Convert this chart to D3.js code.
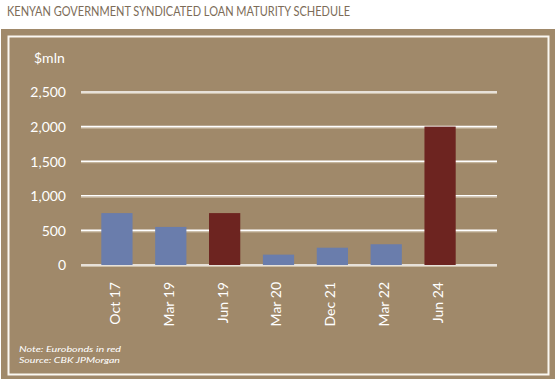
<!DOCTYPE html>
<html><head><meta charset="utf-8">
<script src="https://cdn.jsdelivr.net/npm/d3@7"></script>
<style>body{margin:0;background:#fff}svg{display:block}</style>
</head><body>
<script>
const categories = ["Oct 17","Mar 19","Jun 19","Mar 20","Dec 21","Mar 22","Jun 24"];
const values = [750, 550, 750, 150, 250, 300, 2000];
const eurobond = [false, false, true, false, false, false, true];
const yTicks = [0, 500, 1000, 1500, 2000, 2500];

const W = 560, H = 384;
const BG = "#a0896a", BLUE = "#6a7dac", RED = "#6d2420";
const svg = d3.select("body").append("svg").attr("width", W).attr("height", H);

svg.append("text").attr("x", 7).attr("y", 16)
  .attr("font-family", "Lato, 'Liberation Sans', sans-serif").attr("font-size", 12.5)
  .attr("fill", "#7c6c58").attr("textLength", 343).attr("lengthAdjust", "spacingAndGlyphs")
  .text("KENYAN GOVERNMENT SYNDICATED LOAN MATURITY SCHEDULE");

svg.append("rect").attr("x", 1).attr("y", 29).attr("width", 554).attr("height", 350).attr("fill", BG);
svg.append("rect").attr("x", 8.5).attr("y", 36.5).attr("width", 540).attr("height", 338)
  .attr("fill", "none").attr("stroke", "#fbf8f2").attr("stroke-width", 2);

const x = d3.scaleBand().domain(categories).range([90, 467]).paddingInner(0.42).paddingOuter(0.21);
const y = d3.scaleLinear().domain([0, 2500]).range([265, 92]);

const font = "Lato, 'Liberation Sans', sans-serif";

// gridlines
const g = svg.append("g");
g.selectAll("line.shadow").data(yTicks).join("line")
  .attr("x1", 81).attr("x2", 497).attr("y1", d => y(d) + 1.5).attr("y2", d => y(d) + 1.5)
  .attr("stroke", "#cdbfa8").attr("stroke-width", 1);
g.selectAll("line.grid").data(yTicks).join("line")
  .attr("x1", 81).attr("x2", 497).attr("y1", d => y(d)).attr("y2", d => y(d))
  .attr("stroke", "#ffffff").attr("stroke-width", 1.6);

// y axis labels
const yAxis = d3.axisLeft(y).tickValues(yTicks).tickFormat(d3.format(",")).tickSize(0).tickPadding(0);
const ya = svg.append("g").attr("transform", "translate(66,0)").call(yAxis);
ya.select(".domain").remove();
ya.selectAll("text").attr("fill", "#ffffff").attr("font-family", font).attr("font-size", 14).attr("dy", "0.35em");

svg.append("text").attr("x", 34).attr("y", 63).attr("fill", "#fff")
  .attr("font-family", font).attr("font-size", 14).text("$mln");

// bars
svg.append("g").selectAll("rect").data(categories).join("rect")
  .attr("x", d => x(d)).attr("width", x.bandwidth())
  .attr("y", (d, i) => y(values[i])).attr("height", (d, i) => y(0) - y(values[i]))
  .attr("fill", (d, i) => eurobond[i] ? RED : BLUE);

// x axis labels
const xAxis = d3.axisBottom(x).tickSize(0).tickPadding(0);
const xa = svg.append("g").call(xAxis);
xa.select(".domain").remove();
xa.selectAll("text").attr("fill", "#fff").attr("font-family", font).attr("font-size", 14)
  .attr("text-anchor", "end").attr("transform", "rotate(-90)")
  .attr("x", 0).attr("y", 0).attr("dx", 0).attr("dy", "0.35em");
xa.selectAll(".tick").attr("transform", d => `translate(${x(d) + x.bandwidth()/2 - 2},282)`);

svg.append("text").attr("x", 19).attr("y", 352.3).attr("fill", "#fff").attr("font-style", "italic")
  .attr("font-family", font).attr("font-size", 8.5).attr("textLength", 102).attr("lengthAdjust", "spacingAndGlyphs")
  .text("Note: Eurobonds in red");
svg.append("text").attr("x", 19).attr("y", 362.8).attr("fill", "#fff").attr("font-style", "italic")
  .attr("font-family", font).attr("font-size", 8.5).attr("textLength", 101).attr("lengthAdjust", "spacingAndGlyphs")
  .text("Source: CBK JPMorgan");
</script>
</body></html>
